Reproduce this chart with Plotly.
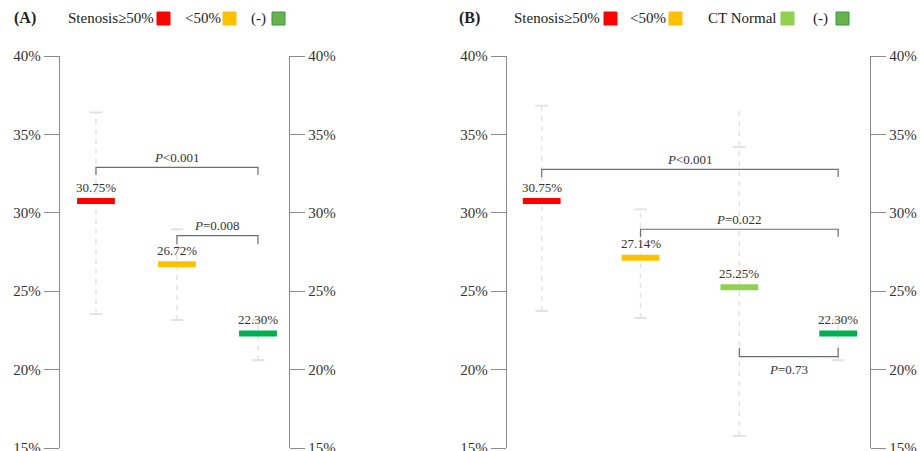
import plotly.graph_objects as go

W, H = 920, 451

# ---- data -------------------------------------------------------------
groups_a = ["Stenosis≥50%", "<50%", "(-)"]
mean_a = [30.75, 26.72, 22.30]
low_a = [23.55, 23.16, 20.60]
high_a = [36.40, 28.95, 23.16]

groups_b = ["Stenosis≥50%", "<50%", "CT Normal", "(-)"]
mean_b = [30.75, 27.14, 25.25, 22.30]
low_b = [23.74, 23.29, 15.77, 20.60]
high_b = [36.83, 30.22, 34.20, 23.16]
whisker_top_b = [36.83, 30.22, 36.60, 23.16]

colors_a = ["#FF0000", "#FFC000", "#00B050"]
colors_b = ["#FF0000", "#FFC000", "#92D050", "#00B050"]

# pairwise comparisons: (from, to, bracket level, tick end, label)
comps_a = [(0, 2, 32.90, 32.41, "<i>P</i>&lt;0.001"),
           (1, 2, 28.54, 28.00, "<i>P</i>=0.008")]
comps_b = [(0, 3, 32.77, 32.28, "<i>P</i>&lt;0.001"),
           (1, 3, 28.95, 28.48, "<i>P</i>=0.022"),
           (2, 3, 20.83, 21.38, "<i>P</i>=0.73")]

y_ticks = [15, 20, 25, 30, 35, 40]
y_tick_text = [f"{t}%" for t in y_ticks]

FONT = "Liberation Serif"
AXIS_COL = "#8a8a8a"
TXT_COL = "#333333"
ERR_COL = "#e3e3e3"
BRK_COL = "#6e6e6e"

fig = go.Figure()


def px_x(p):
    return p / W


def px_y(p):
    return (H - p) / H


def add_panel(xa, ya, means, lows, highs, tops, colors):
    xs = list(range(len(means)))
    for i in xs:
        # dashed whisker
        fig.add_trace(go.Scatter(
            x=[i, i], y=[lows[i], tops[i]], mode="lines",
            line=dict(color=ERR_COL, width=1.5, dash="5px,5px"),
            xaxis=xa, yaxis=ya, hoverinfo="skip", showlegend=False))
        # caps
        fig.add_trace(go.Scatter(
            x=[i, i], y=[lows[i], highs[i]], mode="markers",
            marker=dict(symbol="line-ew", size=9,
                        line=dict(color=ERR_COL, width=2)),
            xaxis=xa, yaxis=ya, hoverinfo="skip", showlegend=False))
    # mean bars
    fig.add_trace(go.Scatter(
        x=xs, y=means, mode="markers",
        marker=dict(symbol="line-ew", size=27,
                    line=dict(color=colors, width=6)),
        xaxis=xa, yaxis=ya, hoverinfo="skip", showlegend=False))
    # value labels
    for i in xs:
        fig.add_annotation(
            x=i, y=means[i], xref=xa, yref=ya, yshift=14,
            text=f"{means[i]:.2f}%", showarrow=False,
            font=dict(family=FONT, size=13, color=TXT_COL))


def add_brackets(xa, ya, comps):
    for a, b, lvl, end, label in comps:
        fig.add_shape(type="path", xref=xa, yref=ya,
                      path=f"M {a},{end} L {a},{lvl} L {b},{lvl} L {b},{end}",
                      line=dict(color=BRK_COL, width=1.2))
        above = end < lvl
        fig.add_annotation(
            x=(a + b) / 2, y=lvl, xref=xa, yref=ya,
            yshift=10 if above else -13,
            text=label, showarrow=False,
            font=dict(family=FONT, size=13, color=TXT_COL))


add_panel("x", "y", mean_a, low_a, high_a, high_a, colors_a)
add_panel("x2", "y3", mean_b, low_b, high_b, whisker_top_b, colors_b)
add_brackets("x", "y", comps_a)
add_brackets("x2", "y3", comps_b)

# invisible traces so the right-hand axes render
for xa, ya in (("x", "y2"), ("x2", "y4")):
    fig.add_trace(go.Scatter(x=[0], y=[20], xaxis=xa, yaxis=ya, mode="markers",
                             marker=dict(opacity=0), hoverinfo="skip",
                             showlegend=False))

y_dom = [px_y(448), px_y(56)]
common_y = dict(range=[15, 40], tickvals=y_ticks, ticktext=y_tick_text,
                showgrid=False, zeroline=False, showline=True,
                linecolor=AXIS_COL, linewidth=1.3, ticks="outside",
                tickcolor=AXIS_COL, tickwidth=1.3, ticklen=15,
                tickfont=dict(family=FONT, size=15, color=TXT_COL),
                ticklabeloverflow="allow",
                automargin=False, fixedrange=True)
hidden_x = dict(visible=False, showgrid=False, zeroline=False,
                automargin=False, fixedrange=True)

fig.update_layout(
    width=W, height=H,
    margin=dict(l=0, r=0, t=0, b=0, autoexpand=False),
    paper_bgcolor="white", plot_bgcolor="white",
    showlegend=False,
    xaxis=dict(domain=[px_x(60), px_x(289)], range=[-0.444, 2.383],
               anchor="y", **hidden_x),
    xaxis2=dict(domain=[px_x(507), px_x(870)], range=[-0.351, 3.322],
                anchor="y3", **hidden_x),
    yaxis=dict(domain=y_dom, anchor="x", side="left", **common_y),
    yaxis2=dict(domain=y_dom, anchor="x", side="right", overlaying="y",
                **common_y),
    yaxis3=dict(domain=y_dom, anchor="x2", side="left", **common_y),
    yaxis4=dict(domain=y_dom, anchor="x2", side="right", overlaying="y3",
                **common_y),
)

# header legends
def header_text(x, text, bold=False, size=15):
    fig.add_annotation(
        x=px_x(x), y=px_y(18), xref="paper", yref="paper",
        xanchor="left", yanchor="middle", showarrow=False,
        text=f"<b>{text}</b>" if bold else text,
        font=dict(family=FONT, size=size, color="#222222"))


def header_square(x, fill, border=None):
    fig.add_shape(type="rect", xref="paper", yref="paper",
                  x0=px_x(x), x1=px_x(x + 13), y0=px_y(25), y1=px_y(12),
                  fillcolor=fill,
                  line=dict(color=border or fill, width=1))


header_text(12, "(A)", bold=True, size=16)
header_text(66, "Stenosis≥50%")
header_square(157, "#FF0000")
header_text(183, "&lt;50%")
header_square(223, "#FFC000")
header_text(249, "(-)")
header_square(272, "#6AB04C", "#2E9A44")

header_text(457, "(B)", bold=True, size=16)
header_text(512, "Stenosis≥50%")
header_square(604, "#FF0000")
header_text(628, "&lt;50%")
header_square(669, "#FFC000")
header_text(706, "CT Normal")
header_square(781, "#92D050")
header_text(811, "(-)")
header_square(836, "#6AB04C", "#2E9A44")

fig.write_html("out.html")
